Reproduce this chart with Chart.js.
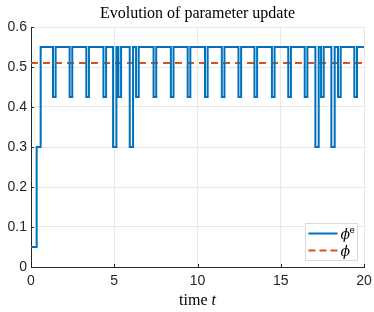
<!DOCTYPE html>
<html lang="en">
<head>
  <meta charset="UTF-8">
  <title>Evolution of parameter update</title>
  <script src="https://cdn.jsdelivr.net/npm/chart.js"></script>
  <style>
    html, body { margin: 0; padding: 0; background: #fff; }
    #wrap { width: 374px; height: 312px; }
  </style>
</head>
<body>
  <div id="wrap"><canvas id="paramChart"></canvas></div>

  <script>
    // stairs data: value holds from each time until the next one
    const stepTimes = [0, 0.34, 0.58,
      1.32, 1.48, 2.32, 2.48, 3.32, 3.48, 4.35, 4.51,
      4.93, 5.13, 5.25, 5.41, 5.93, 6.13, 6.31, 6.47,
      7.36, 7.52, 8.40, 8.56, 9.41, 9.57, 10.45, 10.61,
      11.46, 11.62, 12.46, 12.62, 13.42, 13.58, 14.47, 14.63,
      15.45, 15.61, 16.44, 16.60, 17.08, 17.28, 17.42, 17.58,
      18.04, 18.24, 18.44, 18.60, 19.42, 19.58, 20];
    const stepValues = [0.05, 0.3, 0.55,
      0.425, 0.55, 0.425, 0.55, 0.425, 0.55, 0.425, 0.55,
      0.3, 0.55, 0.425, 0.55, 0.3, 0.55, 0.425, 0.55,
      0.425, 0.55, 0.425, 0.55, 0.425, 0.55, 0.425, 0.55,
      0.425, 0.55, 0.425, 0.55, 0.425, 0.55, 0.425, 0.55,
      0.425, 0.55, 0.425, 0.55, 0.3, 0.55, 0.425, 0.55,
      0.3, 0.55, 0.425, 0.55, 0.425, 0.55, 0.55];
    const refTimes = [0, 20];
    const refValues = [0.51, 0.51];
    const xTicks = [0, 5, 10, 15, 20];
    const yTicks = [0, 0.1, 0.2, 0.3, 0.4, 0.5, 0.6];

    const blue = '#0072BD';
    const orange = '#D95319';
    const axisColor = '#262626';
    const serif = '"DejaVu Serif"';

    const extras = {
      id: 'extras',
      afterDraw(chart) {
        const { ctx, chartArea: a, scales: { x, y } } = chart;
        ctx.save();

        // inward tick marks like matlab
        ctx.strokeStyle = axisColor;
        ctx.lineWidth = 1;
        xTicks.forEach(v => {
          const px = Math.round(x.getPixelForValue(v)) + 0.5;
          ctx.beginPath(); ctx.moveTo(px, a.bottom); ctx.lineTo(px, a.bottom - 3); ctx.stroke();
        });
        yTicks.forEach(v => {
          const py = Math.round(y.getPixelForValue(v)) + 0.5;
          ctx.beginPath(); ctx.moveTo(a.left, py); ctx.lineTo(a.left + 3, py); ctx.stroke();
        });

        // title
        ctx.fillStyle = '#000';
        ctx.textBaseline = 'alphabetic';
        ctx.textAlign = 'center';
        ctx.font = '16px "Liberation Serif"';
        ctx.fillText('Evolution of parameter update', (a.left + a.right) / 2, 18);

        // x label "time t"
        const cx = (a.left + a.right) / 2;
        ctx.textAlign = 'left';
        ctx.font = '16px "Liberation Serif"';
        const w1 = ctx.measureText('time ').width;
        ctx.font = 'italic 16px "Liberation Serif"';
        const w2 = ctx.measureText('t').width;
        const sx = cx - (w1 + w2) / 2;
        ctx.font = '16px "Liberation Serif"';
        ctx.fillText('time ', sx, 305);
        ctx.font = 'italic 16px "Liberation Serif"';
        ctx.fillText('t', sx + w1, 305);

        // legend box
        const bw = 52, bh = 37;
        const bx = a.right - 7 - bw + 0.5, by = a.bottom - 7 - bh + 0.5;
        ctx.fillStyle = '#fff';
        ctx.fillRect(bx, by, bw, bh);
        ctx.strokeStyle = '#d9d9d9';
        ctx.lineWidth = 1;
        ctx.strokeRect(bx, by, bw, bh);

        ctx.lineWidth = 2;
        ctx.strokeStyle = blue;
        ctx.beginPath(); ctx.moveTo(bx + 3, by + 10); ctx.lineTo(bx + 32, by + 10); ctx.stroke();
        ctx.strokeStyle = orange;
        ctx.setLineDash([7, 4]);
        ctx.beginPath(); ctx.moveTo(bx + 3, by + 27); ctx.lineTo(bx + 32, by + 27); ctx.stroke();
        ctx.setLineDash([]);

        ctx.fillStyle = '#000';
        ctx.font = 'italic 14px ' + serif;
        ctx.fillText('\u03D5', bx + 35, by + 15);
        ctx.fillText('\u03D5', bx + 35, by + 32);
        ctx.font = '9px ' + serif;
        ctx.fillText('e', bx + 44, by + 9);

        ctx.restore();
      }
    };

    const ctx = document.getElementById('paramChart').getContext('2d');

    new Chart(ctx, {
      type: 'line',
      data: {
        datasets: [{
          label: 'phi_e',
          data: stepTimes.map((t, i) => ({ x: t, y: stepValues[i] })),
          borderColor: blue,
          borderWidth: 2,
          stepped: 'before',
          pointRadius: 0,
          fill: false
        }, {
          label: 'phi',
          data: refTimes.map((t, i) => ({ x: t, y: refValues[i] })),
          borderColor: orange,
          borderWidth: 2,
          borderDash: [7, 5],
          pointRadius: 0,
          fill: false
        }]
      },
      options: {
        responsive: true,
        maintainAspectRatio: false,
        animation: false,
        layout: { padding: { top: 27, right: 10, left: 0, bottom: 0 } },
        plugins: {
          legend: { display: false },
          tooltip: { enabled: false },
          title: { display: false }
        },
        scales: {
          x: {
            type: 'linear',
            min: 0,
            max: 20,
            afterFit: s => { s.height = 45; s.paddingLeft = 0; s.paddingRight = 0; },
            afterBuildTicks: s => { s.ticks = xTicks.map(v => ({ value: v })); },
            ticks: {
              color: axisColor,
              font: { family: '"Liberation Sans", Arial', size: 14 },
              padding: 6,
              maxRotation: 0
            },
            grid: { color: '#e8e8e8', drawTicks: false },
            border: { color: axisColor, width: 1 }
          },
          y: {
            min: 0,
            max: 0.6,
            afterFit: s => { s.width = 31; s.paddingTop = 0; s.paddingBottom = 0; },
            afterBuildTicks: s => { s.ticks = yTicks.map(v => ({ value: v })); },
            ticks: {
              color: axisColor,
              font: { family: '"Liberation Sans", Arial', size: 14 },
              padding: 4,
              callback: v => String(v)
            },
            grid: { color: '#e8e8e8', drawTicks: false },
            border: { color: axisColor, width: 1 }
          }
        }
      },
      plugins: [extras]
    });
  </script>
</body>
</html>
